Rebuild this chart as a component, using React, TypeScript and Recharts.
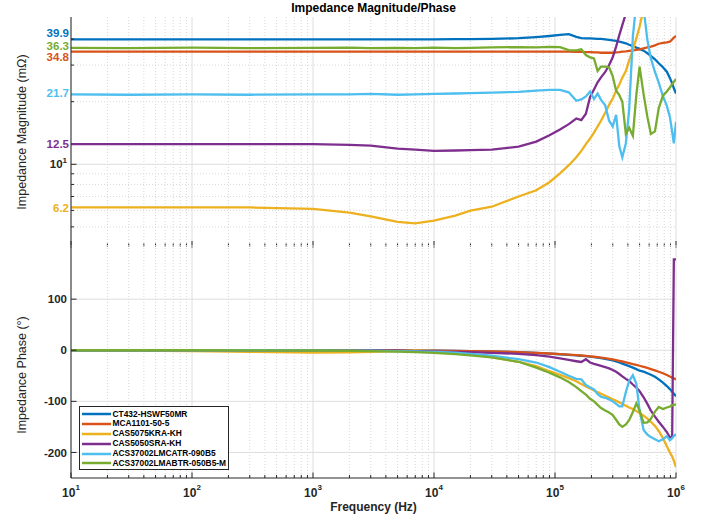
import React from 'react';
import { LineChart, Line, XAxis, YAxis, CartesianGrid } from 'recharts';

// sweep frequencies (Hz) shared by every trace
const freq = [
  10, 30, 100, 300, 1e3, 2e3, 3e3, 5e3, 7e3, 1e4,
  1.5e4, 2e4, 3e4, 5e4, 7e4, 9e4, 1.1e5, 1.3e5, 1.5e5, 1.65e5,
  1.8e5, 1.95e5, 2.1e5, 2.25e5, 2.4e5, 2.6e5, 2.8e5, 3e5, 3.2e5, 3.4e5,
  3.6e5, 3.85e5, 4.1e5, 4.4e5, 4.7e5, 5e5, 5.4e5, 5.8e5, 6.2e5, 6.7e5,
  7.2e5, 7.8e5, 8.4e5, 8.9e5, 9.3e5, 9.6e5, 1e6,
];

const seriesNames = [
  'CT432-HSWF50MR',
  'MCA1101-50-5',
  'CAS5075KRA-KH',
  'CAS5050SRA-KH',
  'ACS37002LMCATR-090B5',
  'ACS37002LMABTR-050B5-M',
];

// magnitude, mOhm
const magBlue = [
  39.9, 39.9, 39.9, 39.9, 39.9, 39.9, 39.9, 39.9, 39.9, 39.9,
  39.95, 40.0, 40.1, 40.4, 40.9, 41.4, 41.9, 42.3, 41.0, 40.4,
  40.3, 40.3, 40.2, 40.1, 40.1, 39.9, 39.7, 39.4, 39.2, 38.9,
  38.6, 38.2, 37.6, 37.0, 36.4, 35.9, 35.2, 34.2, 33.2, 32.0,
  30.6, 29.3, 27.9, 26.0, 24.5, 23.2, 21.9,
];
const magOrange = [
  34.8, 34.8, 34.8, 34.8, 34.8, 34.8, 34.8, 34.8, 34.8, 34.8,
  34.8, 34.8, 34.8, 34.8, 34.8, 34.8, 34.8, 34.8, 34.7, 34.7,
  34.6, 34.6, 34.5, 34.5, 34.4, 34.4, 34.4, 34.4, 34.5, 34.6,
  34.8, 34.9, 35.1, 35.3, 35.5, 35.7, 36.1, 36.5, 36.8, 37.3,
  38.0, 38.4, 38.6, 38.9, 39.8, 40.7, 41.4,
];
const magYellow = [
  6.2, 6.2, 6.2, 6.2, 6.1, 5.85, 5.62, 5.28, 5.2, 5.36,
  5.66, 5.98, 6.25, 7.0, 7.5, 8.2, 9.05, 9.9, 10.8, 11.6,
  12.5, 13.3, 14.2, 15.2, 16.2, 17.7, 19.3, 20.7, 22.6, 24.2,
  26.1, 28.1, 31.5, 35.5, 40.3, 45.9, 56, 66, null, null,
  null, null, null, null, null, null, null,
];
const magPurple = [
  12.5, 12.5, 12.5, 12.5, 12.5, 12.4, 12.3, 11.9, 11.75, 11.6,
  11.65, 11.7, 11.75, 12.15, 12.85, 13.8, 14.7, 15.6, 16.6, 16.3,
  17.5, 21.1, 22.9, 24.8, 26.2, 27.8, 30.0, 32.7, 36.8, 41.8,
  46.7, 53, 60, 70, null, null, null, null, null, null,
  null, null, null, null, null, null, null,
];
const magCyan = [
  21.7, 21.6, 21.7, 21.6, 21.7, 21.7, 21.8, 21.6, 21.7, 21.8,
  21.9, 22.0, 22.1, 22.3, 22.6, 22.8, 22.8, 22.2, 20.2, 20.5,
  21.2, 22.4, 20.6, 21.9, 20.4, 19.2, 16.2, 15.2, 17.3, 12.2,
  10.8, 12.6, 18.2, 41.1, 60, 80, 56, 39.6, 32.3, 27.8,
  24.7, 21.3, 19.1, 16.9, 14.3, 12.6, 16.0,
];
const magGreen = [
  36.3, 36.2, 36.4, 36.2, 36.3, 36.4, 36.2, 36.3, 36.2, 36.4,
  36.2, 36.3, 36.5, 36.6, 36.5, 36.7, 36.6, 35.4, 35.3, 35.7,
  33.5, 32.7, 32.3, 28.1, 29.5, 29.5, 29.3, 26.5, 22.6, 21.5,
  20.0, 14.0, 15.0, 13.7, 21.5, 29.5, 21.7, 16.9, 14.0, 14.4,
  18.6, 21.4, 22.4, 23.4, 24.3, 24.9, 25.7,
];

// phase, degrees
const phBlue = [
  0, 0, 0, 0, 0, 0, -0.2, -0.4, -0.6, -1,
  -1.4, -1.8, -2.5, -3.8, -5.2, -6.5, -7.8, -9, -10, -10.8,
  -11.6, -12.5, -13.5, -14.5, -15.6, -17, -18.5, -20, -22, -24,
  -26, -28.5, -31, -34, -37, -40, -42, -45, -48, -52,
  -57, -63.5, -70, -76, -81, -85, -90,
];
const phOrange = [
  0, 0, 0, 0, 0, 0, -0.2, -0.4, -0.6, -1,
  -1.3, -1.7, -2.3, -3.5, -5, -6.3, -7.5, -8.6, -9.6, -10.3,
  -11, -11.8, -12.7, -13.5, -14.4, -15.6, -16.8, -18, -19.5, -20.8,
  -22, -23.5, -25, -27, -28.7, -30.3, -32.5, -34.6, -36.8, -39.5,
  -42, -45, -48.5, -51.5, -53.5, -55, -57,
];
const phYellow = [
  0, -0.5, -1.5, -3, -4.5, -4, -3, -1.5, -1, -1.5,
  -3.5, -7, -14, -22.5, -31, -41, -48, -54.5, -60.5, -66,
  -71, -75, -78.5, -82, -85, -89, -92.5, -96, -99, -102,
  -105, -108.5, -112, -115, -119, -123, -128, -134, -140, -148,
  -158, -172, -188, -200, -208, -216, -229,
];
const phPurple = [
  0, 0, 0, 0, 0, -0.3, -0.5, -1, -1.5, -2,
  -3, -3.8, -5, -7, -9.5, -12.5, -16, -19, -21.5, -23,
  -17.6, -24, -26.5, -28.5, -30.5, -33, -35.5, -38.5, -42, -46.5,
  -51, -56, -60, -67, -73, -80, -92, -105, -118, -130,
  -140, -150, -160, -171, -168, 178, 178,
];
const phCyan = [
  0, 0, 0, 0, -0.3, -0.6, -1, -1.5, -2.2, -3,
  -4.5, -7, -10.5, -17.5, -24, -33, -42, -50, -56, -57,
  -68, -73, -76.5, -86, -91, -93, -96, -100, -105, -110,
  -110, -82, -60, -49, -65, -118, -156, -165, -170, -174,
  -178, -174, -168, -176, -172, -168, -164,
];
const phGreen = [
  0, 0, 0, -0.2, -0.5, -1, -1.5, -2.5, -3.5, -5,
  -7.5, -10, -14, -22.5, -34, -44, -53, -62, -72, -80,
  -87, -95, -100, -107, -113, -118, -122, -127, -136, -145,
  -150, -145, -137, -121, -104, -118, -142, -141, -134, -120,
  -111, -115, -112, -110, -108, -107, -106,
];

// low-frequency values printed next to the magnitude axis (same order as the series)
const magLabelValues = [39.9, 34.8, 6.2, 12.5, 21.7, 36.3];

const magSeries = [magBlue, magOrange, magYellow, magPurple, magCyan, magGreen];
const phSeries = [phBlue, phOrange, phYellow, phPurple, phCyan, phGreen];

const majorFreq = [10, 100, 1e3, 1e4, 1e5, 1e6];
const minorFreq = majorFreq.slice(0, -1).flatMap((d) => [2, 3, 4, 5, 6, 7, 8, 9].map((k) => k * d));
const freqTicks = [...majorFreq, ...minorFreq].sort((a, b) => a - b);
const magMinor = [5, 6, 7, 8, 9, 20, 30, 40];
const magTicks = [...magMinor, 10, ...magLabelValues];
const phaseTicks = [-200, -100, 0, 100];

const COLORS = ['#0072BD', '#D95319', '#EDB120', '#7E2F8E', '#4DBEEE', '#77AC30'];
const AXIS = '#262626';
const FONT = '"Liberation Sans", Arial, Helvetica, sans-serif';
// nudges so the stacked value labels don't collide
const LABEL_SHIFT: Record<string, number> = {
  '39.9': -6.5, '36.3': -2.5, '34.8': 5.5, '21.7': -1.5, '12.5': 0, '6.2': 0.5,
};

const magRows = freq.map((f, i) => {
  const row: Record<string, number | null> = { f };
  magSeries.forEach((s, k) => { row['s' + k] = s[i]; });
  return row;
});
const phRows = freq.map((f, i) => {
  const row: Record<string, number | null> = { f };
  phSeries.forEach((s, k) => { row['s' + k] = s[i]; });
  return row;
});

const MagTick = ({ x, y, payload }: any) => {
  const v = payload.value;
  const k = magLabelValues.indexOf(v);
  if (k >= 0) {
    return (
      <text x={x - 2} y={y + LABEL_SHIFT[v.toFixed(1)]} dy="0.36em" textAnchor="end"
        fill={COLORS[k]} fontSize={11.5} fontWeight="bold" fontFamily={FONT}>
        {v.toFixed(1)}
      </text>
    );
  }
  if (v === 10) {
    return (
      <g>
        <line x1={x} x2={x + 5.5} y1={y} y2={y} stroke={AXIS} />
        <text x={x - 4} y={y} dy="0.36em" textAnchor="end" fill={AXIS}
          fontSize={11.5} fontWeight="bold" fontFamily={FONT}>
          10<tspan fontSize={8} dy={-5}>1</tspan>
        </text>
      </g>
    );
  }
  return <line x1={x} x2={x + 3} y1={y} y2={y} stroke={AXIS} />;
};

const PhaseTick = ({ x, y, payload }: any) => (
  <g>
    <line x1={x} x2={x + 5.5} y1={y} y2={y} stroke={AXIS} />
    <text x={x - 4} y={y} dy="0.36em" textAnchor="end" fill={AXIS}
      fontSize={11.5} fontWeight="bold" fontFamily={FONT}>
      {payload.value}
    </text>
  </g>
);

// ticks where the two panels meet (no labels)
const SeamTick = ({ x, y, payload }: any) => {
  const major = majorFreq.includes(payload.value);
  return <line x1={x} x2={x} y1={y - (major ? 4 : 1.5)} y2={y + (major ? 3 : 1.5)} stroke={AXIS} />;
};

const FreqTick = ({ x, y, payload }: any) => {
  const v = payload.value;
  const major = majorFreq.includes(v);
  return (
    <g>
      <line x1={x} x2={x} y1={y} y2={y - (major ? 5.5 : 3)} stroke={AXIS} />
      {major && (
        <text x={x} y={y + 18.7} textAnchor="middle" fill={AXIS}
          fontSize={12} fontWeight="bold" fontFamily={FONT}>
          10<tspan fontSize={8} dy={-6.5}>{Math.round(Math.log10(v))}</tspan>
        </text>
      )}
    </g>
  );
};

const App: React.FC = () => {
  return (
    <div style={{ position: 'absolute', left: 0, top: 0, width: 704, height: 518, background: '#fff', fontFamily: FONT }}>
      {/* magnitude panel */}
      <div style={{ position: 'absolute', left: 0, top: 0 }}>
        <LineChart width={704} height={250} data={magRows} margin={{ top: 17, right: 28, bottom: 4, left: 21 }}>
          <CartesianGrid verticalValues={minorFreq} horizontalValues={magMinor} stroke="#d9d9d9" strokeDasharray="1 2" />
          <CartesianGrid verticalValues={majorFreq} horizontalValues={[10]} stroke="#dedede" />
          <XAxis dataKey="f" type="number" scale="log" domain={[10, 1e6]} allowDataOverflow
            ticks={freqTicks} interval={0} height={1} axisLine={false} tickLine={false}
            tickSize={0} tickMargin={0} tick={<SeamTick />} />
          <YAxis type="number" scale="log" domain={[4.09, 51.1]} allowDataOverflow width={50}
            ticks={magTicks} interval={0} axisLine={{ stroke: AXIS }} tickLine={false}
            tickSize={0} tickMargin={0} tick={<MagTick />} />
          {magSeries.map((_, k) => (
            <Line key={k} type="linear" dataKey={'s' + k} stroke={COLORS[k]} strokeWidth={2.3}
              dot={false} isAnimationActive={false} connectNulls={false} />
          ))}
        </LineChart>
      </div>

      {/* phase panel */}
      <div style={{ position: 'absolute', left: 0, top: 240 }}>
        <LineChart width={704} height={278} data={phRows} margin={{ top: 5, right: 28, bottom: 0, left: 21 }}>
          <CartesianGrid verticalValues={minorFreq} horizontal={false} stroke="#d9d9d9" strokeDasharray="1 2" />
          <CartesianGrid verticalValues={majorFreq} horizontalValues={phaseTicks} stroke="#dedede" />
          <XAxis dataKey="f" type="number" scale="log" domain={[10, 1e6]} allowDataOverflow
            ticks={freqTicks} interval={0} height={40} axisLine={{ stroke: AXIS }} tickLine={false}
            tickSize={0} tickMargin={0} tick={<FreqTick />} />
          <YAxis type="number" domain={[-250, 206]} allowDataOverflow width={50}
            ticks={phaseTicks} interval={0} axisLine={{ stroke: AXIS }} tickLine={false}
            tickSize={0} tickMargin={0} tick={<PhaseTick />} />
          {phSeries.map((_, k) => (
            <Line key={k} type="linear" dataKey={'s' + k} stroke={COLORS[k]} strokeWidth={2.3}
              dot={false} isAnimationActive={false} connectNulls={false} />
          ))}
        </LineChart>
      </div>

      {/* titles */}
      <div style={{ position: 'absolute', left: 173.5, width: 400, top: 1, textAlign: 'center', fontSize: 12, fontWeight: 'bold', color: '#000', lineHeight: '14px' }}>
        Impedance Magnitude/Phase
      </div>
      <div style={{ position: 'absolute', left: 173.5, width: 400, top: 500, textAlign: 'center', fontSize: 12, fontWeight: 'bold', color: AXIS, lineHeight: '14px' }}>
        Frequency (Hz)
      </div>
      <div style={{ position: 'absolute', left: 22, top: 132, width: 0, height: 0 }}>
        <div style={{ position: 'absolute', left: -100, top: -8, width: 200, textAlign: 'center', fontSize: 12.5, color: AXIS, lineHeight: '16px', transform: 'rotate(-90deg)' }}>
          Impedance Magnitude (mΩ)
        </div>
      </div>
      <div style={{ position: 'absolute', left: 22, top: 375, width: 0, height: 0 }}>
        <div style={{ position: 'absolute', left: -100, top: -8, width: 200, textAlign: 'center', fontSize: 12.5, color: AXIS, lineHeight: '16px', transform: 'rotate(-90deg)' }}>
          Impedance Phase (°)
        </div>
      </div>

      {/* legend */}
      <div style={{ position: 'absolute', left: 79, top: 406, width: 150, height: 64, border: `1px solid ${AXIS}`, background: '#fff', boxSizing: 'border-box' }}>
        {seriesNames.map((n, i) => (
          <div key={n} style={{ position: 'absolute', left: 2, top: 2.5 + i * 9.8, height: 9.8, display: 'flex', alignItems: 'center', whiteSpace: 'nowrap' }}>
            <svg width={30} height={4} style={{ display: 'block' }}>
              <line x1={0} x2={29} y1={2} y2={2} stroke={COLORS[i]} strokeWidth={2.5} />
            </svg>
            <span style={{ fontSize: 8.4, fontWeight: 'bold', color: '#000', marginLeft: 0.5, lineHeight: '9.8px' }}>{n}</span>
          </div>
        ))}
      </div>
    </div>
  );
};

export default App;
